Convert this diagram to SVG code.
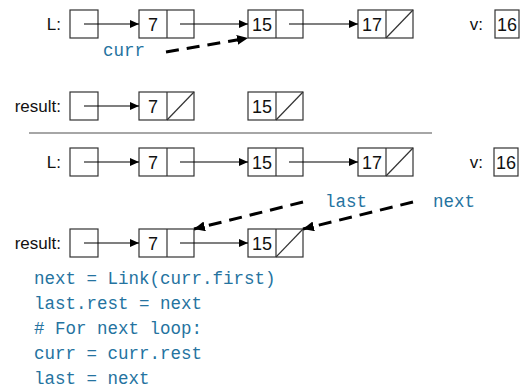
<svg xmlns="http://www.w3.org/2000/svg" width="522" height="390" viewBox="0 0 522 390">
  <defs>
    <style>
      .box { fill: #ffffff; stroke: #333333; stroke-width: 1.2; }
      .div { stroke: #333333; stroke-width: 1.2; }
      .lbl { font-family: "Liberation Sans", Arial, sans-serif; font-size: 17px; fill: #111111; }
      .val { font-family: "Liberation Sans", Arial, sans-serif; font-size: 18px; fill: #111111; }
      .code { font-family: "Liberation Mono", "DejaVu Sans Mono", monospace; font-size: 17.5px; fill: #25739f; }
      .ptr { stroke: #000000; stroke-width: 1.2; fill: none; marker-end: url(#head); }
      .dash { stroke: #000000; stroke-width: 3; fill: none; stroke-dasharray: 13 8; marker-end: url(#bighead); }
      .sep { stroke: #888888; stroke-width: 1.5; }
    </style>
    <marker id="head" markerUnits="userSpaceOnUse" markerWidth="10" markerHeight="8" refX="9" refY="4" orient="auto">
      <path d="M0,0 L9,4 L0,8 Z" fill="#000000"/>
    </marker>
    <marker id="bighead" markerUnits="userSpaceOnUse" markerWidth="12" markerHeight="10" refX="11" refY="5" orient="auto">
      <path d="M0,0 L11,5 L0,10 Z" fill="#000000"/>
    </marker>
  </defs>

  <!-- row 1: L and v -->
  <g id="row1">
    <text class="lbl" x="61" y="30" text-anchor="end">L:</text>
    <g id="r1-L"><rect class="box" x="70" y="10" width="28" height="28"/></g>
    <g id="r1-n7"><rect class="box" x="139" y="10" width="55" height="28"/><line class="div" x1="167" y1="10" x2="167" y2="38"/><text class="val" x="153" y="31" text-anchor="middle">7</text></g>
    <g id="r1-n15"><rect class="box" x="248" y="10" width="55" height="28"/><line class="div" x1="276" y1="10" x2="276" y2="38"/><text class="val" x="262" y="31" text-anchor="middle">15</text></g>
    <g id="r1-n17"><rect class="box" x="358" y="10" width="55" height="28"/><line class="div" x1="386" y1="10" x2="386" y2="38"/><line class="div" x1="386" y1="38" x2="413" y2="10"/><text class="val" x="372" y="31" text-anchor="middle">17</text></g>
    <text class="lbl" x="483" y="30" text-anchor="end">v:</text>
    <g id="r1-v"><rect class="box" x="495" y="10" width="24" height="28"/><text class="val" x="507" y="31" text-anchor="middle">16</text></g>
    <text class="code" x="103" y="56">curr</text>
  </g>

  <!-- row 2: result before linking -->
  <g id="row2">
    <text class="lbl" x="61" y="112" text-anchor="end">result:</text>
    <g id="r2-result"><rect class="box" x="70" y="92" width="28" height="28"/></g>
    <g id="r2-n7"><rect class="box" x="139" y="92" width="55" height="28"/><line class="div" x1="167" y1="92" x2="167" y2="120"/><line class="div" x1="167" y1="120" x2="194" y2="92"/><text class="val" x="153" y="113" text-anchor="middle">7</text></g>
    <g id="r2-n15"><rect class="box" x="248" y="92" width="55" height="28"/><line class="div" x1="276" y1="92" x2="276" y2="120"/><line class="div" x1="276" y1="120" x2="303" y2="92"/><text class="val" x="262" y="113" text-anchor="middle">15</text></g>
  </g>

  <line class="sep" x1="29" y1="133" x2="432" y2="133"/>

  <!-- row 3: L and v after step -->
  <g id="row3">
    <text class="lbl" x="61" y="168" text-anchor="end">L:</text>
    <g id="r3-L"><rect class="box" x="70" y="148" width="28" height="28"/></g>
    <g id="r3-n7"><rect class="box" x="139" y="148" width="55" height="28"/><line class="div" x1="167" y1="148" x2="167" y2="176"/><text class="val" x="153" y="169" text-anchor="middle">7</text></g>
    <g id="r3-n15"><rect class="box" x="248" y="148" width="55" height="28"/><line class="div" x1="276" y1="148" x2="276" y2="176"/><text class="val" x="262" y="169" text-anchor="middle">15</text></g>
    <g id="r3-n17"><rect class="box" x="358" y="148" width="55" height="28"/><line class="div" x1="386" y1="148" x2="386" y2="176"/><line class="div" x1="386" y1="176" x2="413" y2="148"/><text class="val" x="372" y="169" text-anchor="middle">17</text></g>
    <text class="lbl" x="483" y="168" text-anchor="end">v:</text>
    <g id="r3-v"><rect class="box" x="494" y="148" width="24" height="28"/><text class="val" x="506" y="169" text-anchor="middle">16</text></g>
    <text class="code" x="325" y="207">last</text>
    <text class="code" x="433" y="207">next</text>
  </g>

  <!-- row 4: result after linking -->
  <g id="row4">
    <text class="lbl" x="61" y="249" text-anchor="end">result:</text>
    <g id="r4-result"><rect class="box" x="70" y="229" width="28" height="28"/></g>
    <g id="r4-n7"><rect class="box" x="139" y="229" width="55" height="28"/><line class="div" x1="167" y1="229" x2="167" y2="257"/><text class="val" x="153" y="250" text-anchor="middle">7</text></g>
    <g id="r4-n15"><rect class="box" x="248" y="229" width="55" height="28"/><line class="div" x1="276" y1="229" x2="276" y2="257"/><line class="div" x1="276" y1="257" x2="303" y2="229"/><text class="val" x="262" y="250" text-anchor="middle">15</text></g>
  </g>

  <!-- connectors -->
  <g id="connectors">
    <line class="ptr" x1="84" y1="24" x2="139" y2="24"/>
    <line class="ptr" x1="180" y1="24" x2="248" y2="24"/>
    <line class="ptr" x1="289" y1="24" x2="358" y2="24"/>
    <line class="dash" x1="166" y1="52" x2="248" y2="38"/>

    <line class="ptr" x1="84" y1="106" x2="139" y2="106"/>

    <line class="ptr" x1="84" y1="162" x2="139" y2="162"/>
    <line class="ptr" x1="180" y1="162" x2="248" y2="162"/>
    <line class="ptr" x1="289" y1="162" x2="358" y2="162"/>

    <line class="ptr" x1="84" y1="243" x2="139" y2="243"/>
    <line class="ptr" x1="180" y1="243" x2="248" y2="243"/>
    <line class="dash" x1="303" y1="202" x2="194" y2="229"/>
    <line class="dash" x1="413" y1="202" x2="303" y2="229"/>
  </g>

  <!-- code -->
  <g id="code">
    <text class="code" x="34" y="284">next = Link(curr.first)</text>
    <text class="code" x="34" y="309">last.rest = next</text>
    <text class="code" x="34" y="334"># For next loop:</text>
    <text class="code" x="34" y="359">curr = curr.rest</text>
    <text class="code" x="34" y="384">last = next</text>
  </g>
</svg>
